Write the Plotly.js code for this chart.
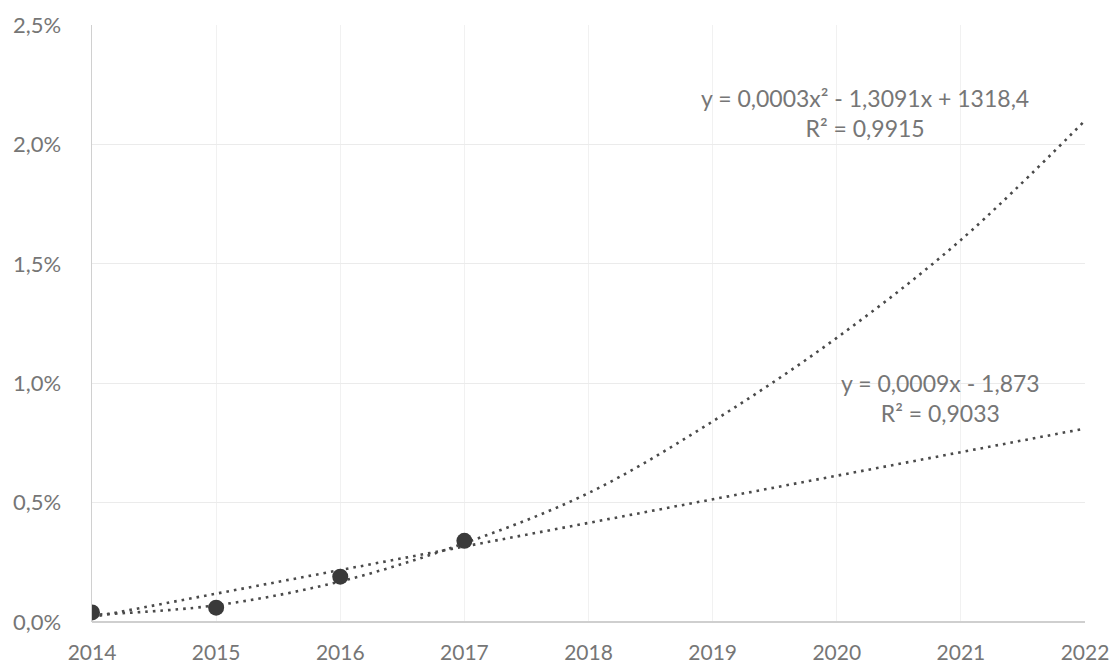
<!DOCTYPE html>
<html>
<head>
<meta charset="utf-8">
<script src="https://cdn.plot.ly/plotly-3.0.1.min.js"></script>
<style>html,body{margin:0;padding:0;background:#fff;}#chart{width:1115px;height:669px;}</style>
</head>
<body>
<div id="chart"></div>
<script>
// Observed values (percent)
const obsYears = [2014, 2015, 2016, 2017];
const obsValues = [0.04, 0.06, 0.19, 0.34];

// Polynomial trendline at each year (percent)
const polyYears = [2014, 2015, 2016, 2017, 2018, 2019, 2020, 2021, 2022];
const polyValues = [0.03, 0.07, 0.17, 0.33, 0.54, 0.84, 1.19, 1.60, 2.10];

// Linear trendline endpoints (percent)
const linYears = [2014, 2022];
const linValues = [0.02, 0.81];

const xTicks = [2014, 2015, 2016, 2017, 2018, 2019, 2020, 2021, 2022];
const yTicks = [0, 0.5, 1.0, 1.5, 2.0, 2.5];
const yTickLabels = ['0,0%', '0,5%', '1,0%', '1,5%', '2,0%', '2,5%'];

const polyLabel = 'y = 0,0003x² - 1,3091x + 1318,4<br>R² = 0,9915';
const linLabel = 'y = 0,0009x - 1,873<br>R² = 0,9033';

const lineColor = '#4a4a4a';
const textColor = '#767676';
const fontFam = 'Lato, "Open Sans", sans-serif';

const traces = [
  {x: polyYears, y: polyValues, type: 'scatter', mode: 'lines',
   line: {color: lineColor, width: 2.6, dash: '2.6px,5px', shape: 'spline', smoothing: 1},
   hoverinfo: 'skip'},
  {x: linYears, y: linValues, type: 'scatter', mode: 'lines',
   line: {color: lineColor, width: 2.6, dash: '2.6px,5px'},
   hoverinfo: 'skip'},
  {x: obsYears, y: obsValues, type: 'scatter', mode: 'markers',
   marker: {color: '#3a3a3a', size: 16, line: {width: 0}}}
];

const layout = {
  width: 1115, height: 669,
  margin: {l: 92, r: 30, t: 25, b: 47},
  paper_bgcolor: '#ffffff', plot_bgcolor: '#ffffff',
  showlegend: false,
  font: {family: fontFam, color: textColor},
  xaxis: {
    range: [2014, 2022], tickvals: xTicks, ticktext: xTicks.map(String),
    showgrid: true, gridcolor: '#f1f1f1', gridwidth: 1,
    zeroline: false, showline: false, ticks: '',
    ticklabelstandoff: 16,
    tickfont: {family: fontFam, size: 21, color: textColor}
  },
  yaxis: {
    range: [0, 2.5], tickvals: yTicks, ticktext: yTickLabels,
    showgrid: true, gridcolor: '#ebebeb', gridwidth: 1,
    zeroline: true, zerolinecolor: '#cfcfcf', zerolinewidth: 1.5,
    showline: true, linecolor: '#d0d0d0', linewidth: 1.5, ticks: '',
    ticklabelstandoff: 25,
    tickfont: {family: fontFam, size: 22, color: textColor}
  },
  annotations: [
    {xref: 'paper', yref: 'paper', x: 0.778, y: 0.853, text: polyLabel,
     showarrow: false, align: 'center', xanchor: 'center', yanchor: 'middle',
     font: {family: fontFam, size: 23, color: textColor}},
    {xref: 'paper', yref: 'paper', x: 0.854, y: 0.375, text: linLabel,
     showarrow: false, align: 'center', xanchor: 'center', yanchor: 'middle',
     font: {family: fontFam, size: 23, color: textColor}}
  ]
};

Plotly.newPlot('chart', traces, layout, {displayModeBar: false, staticPlot: true});
</script>
</body>
</html>
